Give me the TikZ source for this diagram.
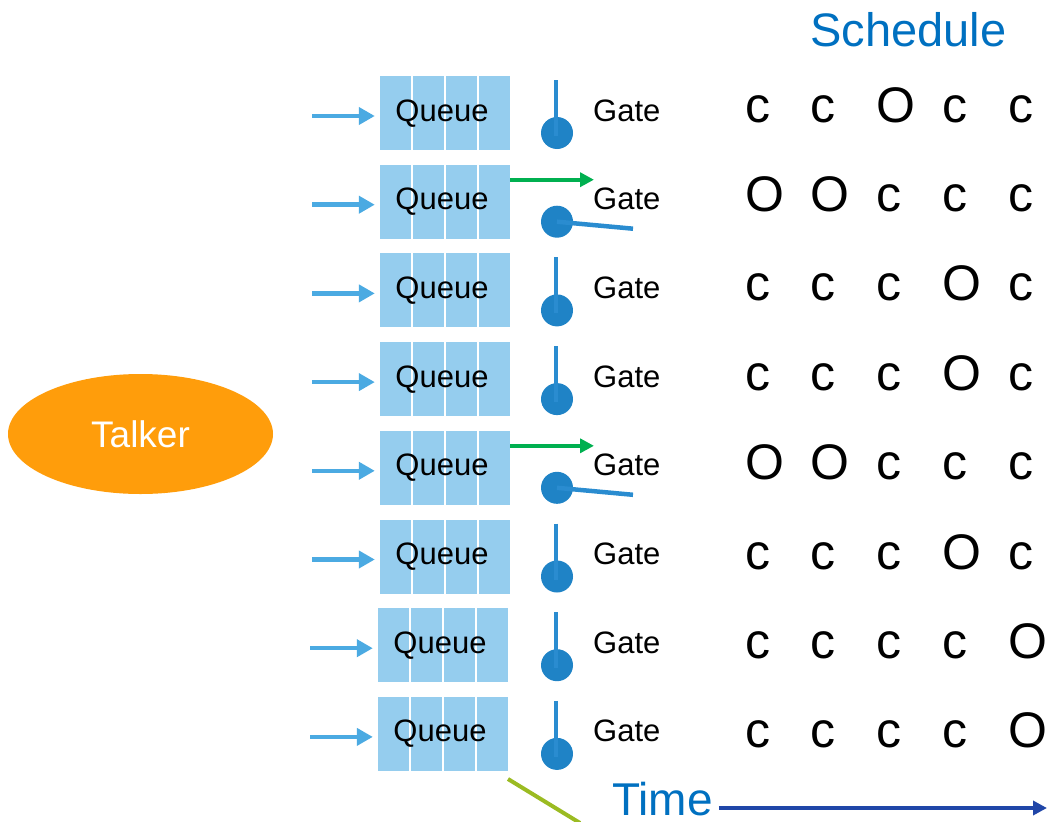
\documentclass[tikz,border=0pt]{standalone}
\usepackage{fontspec}
\setmainfont{Liberation Sans}
\usetikzlibrary{arrows.meta,shapes.geometric}
\definecolor{qblue}{HTML}{95CDEE}
\definecolor{inblue}{HTML}{4BAAE2}
\definecolor{gblue}{HTML}{1F83C6}
\definecolor{lblue}{HTML}{2A8CD0}
\definecolor{ggreen}{HTML}{00B050}
\definecolor{tblue}{HTML}{0070C0}
\definecolor{dblue}{HTML}{2046A8}
\definecolor{olivel}{HTML}{9BBB22}
\definecolor{torange}{HTML}{FF9D0B}
\tikzset{
  queuebox/.style={rectangle, minimum width=130pt, minimum height=74pt, inner sep=0pt},
  qtext/.style={inner sep=0pt, font=\fontsize{31}{37}\selectfont},
  gtext/.style={inner sep=0pt, font=\fontsize{31}{37}\selectfont},
  sched/.style={inner sep=0pt, font=\fontsize{50}{60}\selectfont},
  inarrow/.style={draw=inblue, line width=4.5pt, -{Triangle[length=16pt,width=17pt]}},
  garrow/.style={draw=ggreen, line width=4pt, -{Triangle[length=14pt,width=14pt]}},
  knob/.style={circle, fill=gblue, minimum size=32pt, inner sep=0pt},
  lever/.style={draw=lblue, line width=4.5pt},
}
\begin{document}
\begin{tikzpicture}[x=1pt,y=-1pt]
\useasboundingbox (0,0) rectangle (1050,822);
% talker
\node[ellipse, fill=torange, minimum width=265pt, minimum height=120pt, inner sep=0pt,
      text=white, font=\fontsize{37}{44}\selectfont] (talker) at (140.5,434) {Talker};
% title
\node[anchor=base west, inner sep=0pt, text=tblue, font=\fontsize{47}{56}\selectfont] (title) at (810,46) {Schedule};
% rows
\foreach \i/\s/\g/\dx in {
  1/{c,c,O,c,c}/0/0,
  2/{O,O,c,c,c}/1/0,
  3/{c,c,c,O,c}/0/0,
  4/{c,c,c,O,c}/0/0,
  5/{O,O,c,c,c}/1/0,
  6/{c,c,c,O,c}/0/0,
  7/{c,c,c,c,O}/0/-2,
  8/{c,c,c,c,O}/0/-2}{
  \pgfmathsetmacro\T{76+88.7*(\i-1)}
  \pgfmathsetmacro\B{122+89.4*(\i-1)}
  \pgfmathsetmacro\X{380+\dx}
  \foreach \k in {0,...,3}{\fill[qblue] (\X+33*\k,\T) rectangle ++(31,74);}
  \node[queuebox] (q\i) at (\X+65,\T+37) {};
  \node[qtext, anchor=base] (qt\i) at (\X+62,\T+45) {Queue};
  \coordinate (in\i) at (\X-68,\T+40);
  \draw[inarrow, shorten >=5pt] (in\i) -- (in\i -| q\i.west);
  \node[gtext, anchor=base west] (g\i) at (593,\T+45) {Gate};
  \node[knob] (k\i) at (557,\T+57) {};
  \ifnum\g=1
    \coordinate (le\i) at (633,\T+64);
    \draw[lever] (k\i.center) -- (le\i);
    \coordinate (go\i) at (594,\T+15);
    \draw[garrow] (go\i -| q\i.east) -- (go\i);
  \else
    \coordinate (lt\i) at (556,\T+4);
    \coordinate (lb\i) at (556,\T+60);
    \draw[lever] (lt\i) -- (lb\i);
  \fi
  \foreach \t [count=\j from 0] in \s {
    \node[sched, anchor=base west] (s\i-\j) at (745+65.7*\j,\B) {\t};
  }
}
% olive line
\coordinate (ol1) at (508,779);
\coordinate (ol2) at (580,823);
\draw[draw=olivel, line width=4pt] (ol1) -- (ol2);
% time
\node[anchor=base west, inner sep=0pt, text depth=0pt, text=tblue, font=\fontsize{46}{55}\selectfont] (time) at (612,815) {Time};
\coordinate (tend) at (1047,808);
\draw[draw=dblue, line width=4.5pt, -{Triangle[length=14pt,width=14pt]}, shorten <=6pt] (time.east |- tend) -- (tend);
\end{tikzpicture}
\end{document}
